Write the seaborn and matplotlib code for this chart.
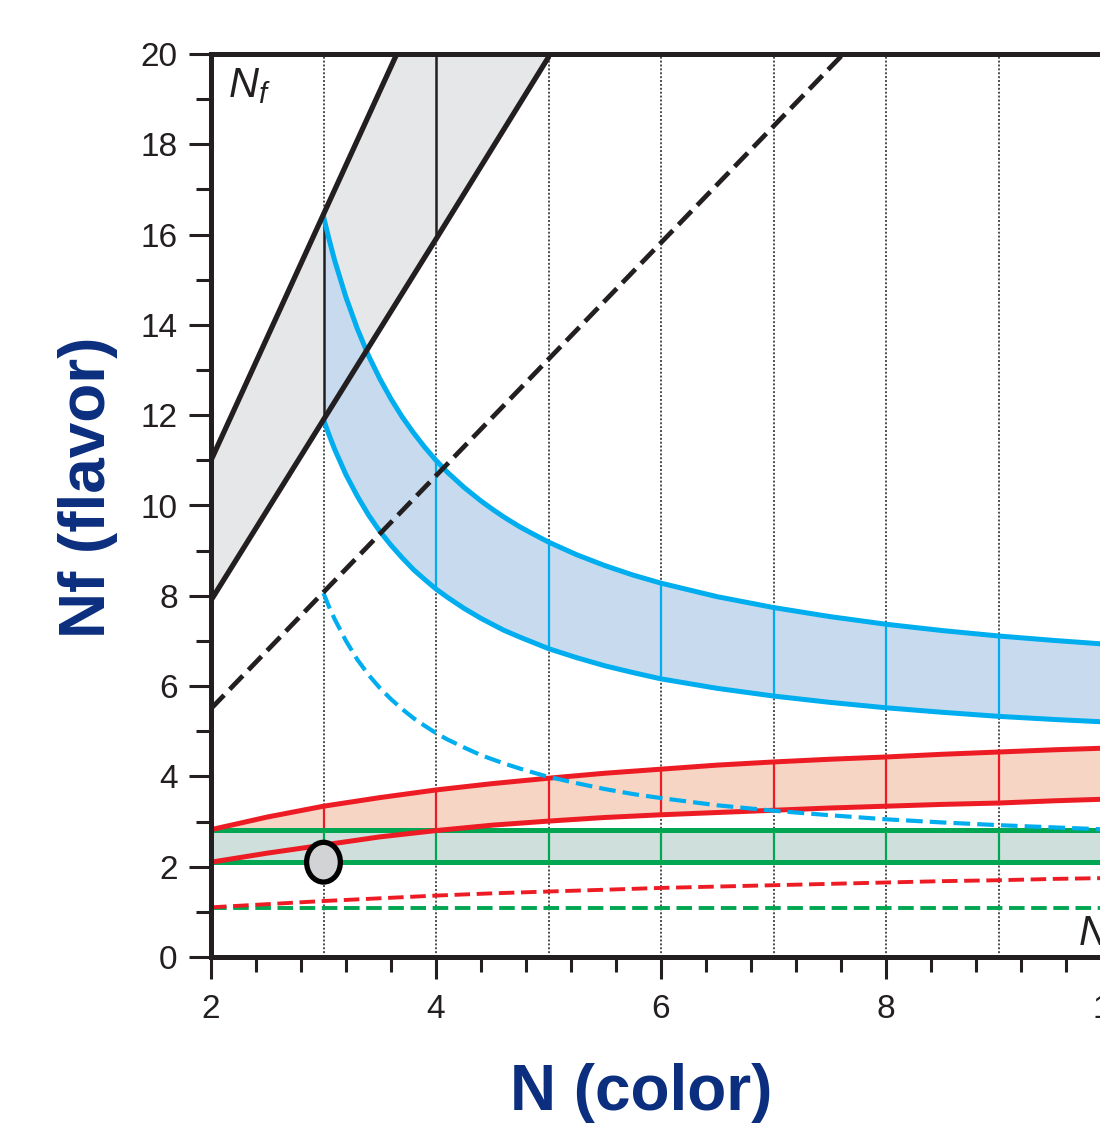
import numpy as np
import pandas as pd
import seaborn as sns
import matplotlib.pyplot as plt
from matplotlib.patches import Ellipse
from matplotlib.ticker import MultipleLocator

# --- data ---
grid_N = [3, 4, 5, 6, 7, 8, 9, 10]

# grey band (black solid lines)
black_N = [2, 3, 4, 5]
black_upper = [11.0, 16.45, 21.9, 27.35]
black_lower = [7.9, 11.9, 15.9, 19.93]
black_vlines = [3, 4]

# black dashed
bdash_N = [2, 3, 4, 5, 6, 7, 8]
bdash_Nf = [5.5, 8.08, 10.66, 13.24, 15.82, 18.4, 20.98]

# blue band + blue dashed
blue_N = [3, 3.05, 3.1, 3.2, 3.3, 3.4, 3.5, 3.6, 3.7, 3.8, 3.9, 4, 4.1, 4.25,
          4.4, 4.5, 4.6, 4.75, 4.9, 5, 5.25, 5.5, 5.75, 6, 6.5, 7, 7.5, 8,
          8.5, 9, 9.5, 10, 10.5, 11]
blue_upper = [16.40, 15.89, 15.42, 14.61, 13.92, 13.32, 12.81, 12.36, 11.96,
              11.61, 11.29, 11.00, 10.74, 10.40, 10.10, 9.92, 9.75, 9.52,
              9.32, 9.19, 8.91, 8.67, 8.46, 8.28, 7.98, 7.74, 7.54, 7.37,
              7.23, 7.11, 7.01, 6.92, 6.84, 6.77]
blue_lower = [11.90, 11.56, 11.24, 10.68, 10.21, 9.79, 9.43, 9.12, 8.84,
              8.58, 8.36, 8.15, 7.97, 7.72, 7.50, 7.37, 7.24, 7.08, 6.93,
              6.83, 6.63, 6.45, 6.30, 6.16, 5.95, 5.78, 5.64, 5.52, 5.42,
              5.33, 5.26, 5.20, 5.15, 5.10]
blue_dash = [8.06, 7.75, 7.48, 7.00, 6.59, 6.25, 5.96, 5.71, 5.49, 5.29,
             5.12, 4.96, 4.82, 4.64, 4.47, 4.38, 4.29, 4.17, 4.06, 3.99,
             3.85, 3.72, 3.61, 3.52, 3.36, 3.24, 3.14, 3.05, 2.98, 2.92,
             2.87, 2.82, 2.78, 2.74]

# red band + red dashed
red_N = [2, 2.5, 3, 3.5, 4, 4.5, 5, 5.5, 6, 6.5, 7, 7.5, 8, 8.5, 9, 9.5,
         10, 10.5, 11]
red_upper = [2.82, 3.10, 3.34, 3.53, 3.70, 3.84, 3.96, 4.07, 4.16, 4.25,
             4.32, 4.38, 4.43, 4.49, 4.54, 4.59, 4.63, 4.67, 4.71]
red_lower = [2.10, 2.30, 2.48, 2.66, 2.80, 2.92, 3.01, 3.09, 3.15, 3.20,
             3.25, 3.30, 3.34, 3.38, 3.41, 3.46, 3.50, 3.53, 3.56]
red_dash = [1.10, 1.17, 1.24, 1.30, 1.36, 1.41, 1.45, 1.49, 1.53, 1.56,
            1.59, 1.62, 1.65, 1.68, 1.70, 1.73, 1.75, 1.77, 1.79]

# green band + green dashed
green_N = [2, 11]
green_upper = [2.82, 2.82]
green_lower = [2.10, 2.10]
green_dash = [1.08, 1.08]

# the marked point
point_N = [3]
point_Nf = [2.1]

x_ticks = [2, 4, 6, 8, 10]
y_ticks = [0, 2, 4, 6, 8, 10, 12, 14, 16, 18, 20]

BLACK = "#231f20"
BLUE = "#00aeef"
RED = "#ed1c24"
GREEN = "#00a651"
NAVY = "#0b2f7e"

sns.set_theme(style="ticks")
plt.rcParams["font.family"] = ["Liberation Sans", "DejaVu Sans"]
plt.rcParams["mathtext.fontset"] = "custom"
plt.rcParams["mathtext.it"] = "Liberation Sans:italic"
plt.rcParams["mathtext.rm"] = "Liberation Sans"

fig = plt.figure(figsize=(11, 11.29), dpi=100)
ax = fig.add_axes([211 / 1100, 172 / 1129, 967.5 / 1100, 903 / 1129])
ax.set_xlim(2, 10.6)
ax.set_ylim(0, 20)


def lookup(xs, ys, at):
    d = dict(zip(xs, ys))
    return [d[a] for a in at]


dash = (0, (4.0, 1.7))

# dotted guide lines
for n in grid_N:
    ax.axvline(n, color="#4d4d4d", lw=1.4, ls=(0, (1, 1)), zorder=1)

# grey band
ax.fill_between(black_N, black_lower, black_upper, color="#e6e7e8", lw=0, zorder=2)
ax.vlines(black_vlines, lookup(black_N, black_lower, black_vlines),
          lookup(black_N, black_upper, black_vlines), color=BLACK, lw=1.8, zorder=3)

# blue band
ax.fill_between(blue_N, blue_lower, blue_upper, color="#c8daee", lw=0, zorder=2)
blue_v = grid_N[1:]
ax.vlines(blue_v, lookup(blue_N, blue_lower, blue_v),
          lookup(blue_N, blue_upper, blue_v), color=BLUE, lw=1.6, zorder=3)

# red band
ax.fill_between(red_N, red_lower, red_upper, color="#f6d5c5", lw=0, zorder=2)
ax.vlines(grid_N, lookup(red_N, red_lower, grid_N),
          lookup(red_N, red_upper, grid_N), color=RED, lw=1.6, zorder=2.5)

# green band (sits over the red one)
ax.fill_between(green_N, green_lower, green_upper, color="#cfe0dc", lw=0, zorder=3)
ax.vlines(grid_N, green_lower[0], green_upper[0], color=GREEN, lw=1.6, zorder=3.5)

# boundary lines
sns.lineplot(x=black_N, y=black_upper, ax=ax, color=BLACK, lw=3.8, zorder=5)
sns.lineplot(x=black_N, y=black_lower, ax=ax, color=BLACK, lw=3.8, zorder=5)
sns.lineplot(x=bdash_N, y=bdash_Nf, ax=ax, color=BLACK, lw=3.4, ls=dash, zorder=5)

sns.lineplot(x=blue_N, y=blue_upper, ax=ax, color=BLUE, lw=3.6, zorder=4)
sns.lineplot(x=blue_N, y=blue_lower, ax=ax, color=BLUE, lw=3.6, zorder=4)
sns.lineplot(x=blue_N, y=blue_dash, ax=ax, color=BLUE, lw=3.0, ls=dash, zorder=4.6)

sns.lineplot(x=green_N, y=green_upper, ax=ax, color=GREEN, lw=3.6, zorder=4)
sns.lineplot(x=green_N, y=green_lower, ax=ax, color=GREEN, lw=3.6, zorder=4)
sns.lineplot(x=green_N, y=green_dash, ax=ax, color=GREEN, lw=2.8, ls=dash, zorder=4)

sns.lineplot(x=red_N, y=red_upper, ax=ax, color=RED, lw=3.6, zorder=4.5)
sns.lineplot(x=red_N, y=red_lower, ax=ax, color=RED, lw=3.6, zorder=4.5)
sns.lineplot(x=red_N, y=red_dash, ax=ax, color=RED, lw=2.8, ls=dash, zorder=4.5)

ax.add_patch(Ellipse((point_N[0], point_Nf[0]), 0.30, 0.88, facecolor="#d1d3d4",
                     edgecolor="black", lw=3.8, zorder=6))

ax.text(2.15, 19.05, "$N_f$", fontsize=30, color=BLACK, zorder=7)
ax.text(9.71, 0.27, "$N_c$", fontsize=30, color=BLACK, zorder=7)

# axes styling
ax.set_xticks(x_ticks)
ax.set_yticks(y_ticks)
ax.xaxis.set_minor_locator(MultipleLocator(0.4))
ax.yaxis.set_minor_locator(MultipleLocator(1))
ax.tick_params(which="major", length=16, width=2.2, color=BLACK, labelsize=24,
               labelcolor=BLACK, direction="out")
ax.tick_params(which="minor", length=11, width=2.2, color=BLACK, direction="out")
ax.tick_params(axis="x", which="major", pad=11)
ax.tick_params(axis="y", which="major", pad=8)
ax.grid(False)
ax.set_facecolor("white")
for side in ["left", "bottom", "top"]:
    ax.spines[side].set_linewidth(3.6)
    ax.spines[side].set_color(BLACK)
    ax.spines[side].set_zorder(8)
ax.spines["right"].set_visible(False)

ax.set_xlabel("N (color)", fontsize=46, fontweight="bold", color=NAVY)
ax.set_ylabel("Nf (flavor)", fontsize=46, fontweight="bold", color=NAVY)
ax.xaxis.set_label_coords((641 - 211) / 967.5, (957 - 1093) / 903)
ax.xaxis.label.set_verticalalignment("center")
ax.yaxis.set_label_coords((88 - 211) / 967.5, (957 - 487) / 903)
ax.yaxis.label.set_verticalalignment("center")

fig.savefig("out.png", dpi=100)
